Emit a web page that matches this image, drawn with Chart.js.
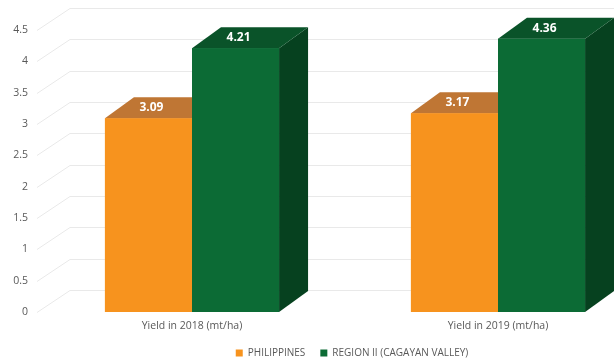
<!DOCTYPE html>
<html>
<head>
<meta charset="utf-8">
<script src="https://cdn.jsdelivr.net/npm/chart.js@4/dist/chart.umd.min.js"></script>
<style>
  html, body { margin: 0; padding: 0; background: #ffffff; overflow: hidden; }
  #wrap { position: relative; width: 700px; height: 368px; }
</style>
</head>
<body>
<div id="wrap"><canvas id="chart"></canvas></div>
<script>
// Rice yield, metric tons per hectare
const categories = ['Yield in 2018 (mt/ha)', 'Yield in 2019 (mt/ha)'];
const seriesNames = ['PHILIPPINES', 'REGION II (CAGAYAN VALLEY)'];
const philippines = [3.09, 3.17];
const cagayanValley = [4.21, 4.36];
const yMax = 4.5;
const yStep = 0.5;

// face colours: front, top, side
const palette = [
  { front: '#F7931E', top: '#BF7634', side: '#A85F1E' },
  { front: '#0C6B35', top: '#0A5329', side: '#06411F' }
];

// oblique depth of the walls and of the columns
const WALL = { dx: 31, dy: -22 };
const BAR = { dx: 29, dy: -21 };

const threeD = {
  id: 'threeD',
  beforeDatasetsDraw(chart) {
    const { ctx, chartArea } = chart;
    const y = chart.scales.y;
    ctx.save();
    ctx.strokeStyle = '#e9e9e9';
    ctx.lineWidth = 1;
    for (let v = 0; v <= yMax + 1e-9; v += yStep) {
      const py = Math.round(y.getPixelForValue(v)) + 0.5;
      ctx.beginPath();
      ctx.moveTo(chartArea.left - 2, py);
      ctx.lineTo(chartArea.left + WALL.dx, py + WALL.dy);
      ctx.lineTo(chart.width, py + WALL.dy);
      ctx.stroke();
    }
    ctx.restore();
  },
  afterDatasetsDraw(chart) {
    const { ctx } = chart;
    const metas = chart.data.datasets.map((d, i) => chart.getDatasetMeta(i));
    ctx.save();
    for (let i = 0; i < categories.length; i++) {
      metas.forEach((meta, di) => {
        const el = meta.data[i];
        const c = palette[di];
        const l = el.x - el.width / 2, r = el.x + el.width / 2;
        const t = el.y, b = el.base;
        // side face
        ctx.fillStyle = c.side;
        ctx.beginPath();
        ctx.moveTo(r, t); ctx.lineTo(r + BAR.dx, t + BAR.dy);
        ctx.lineTo(r + BAR.dx, b + BAR.dy); ctx.lineTo(r, b);
        ctx.closePath(); ctx.fill();
        // top face
        ctx.fillStyle = c.top;
        ctx.beginPath();
        ctx.moveTo(l, t); ctx.lineTo(r, t);
        ctx.lineTo(r + BAR.dx, t + BAR.dy); ctx.lineTo(l + BAR.dx, t + BAR.dy);
        ctx.closePath(); ctx.fill();
        // front face
        ctx.fillStyle = c.front;
        ctx.fillRect(l, t, r - l, b - t);
      });
    }
    // value labels on the top faces
    ctx.fillStyle = '#ffffff';
    ctx.font = 'bold 12px "Open Sans"';
    ctx.textAlign = 'center';
    ctx.textBaseline = 'middle';
    metas.forEach((meta, di) => {
      meta.data.forEach((el, i) => {
        const v = chart.data.datasets[di].data[i];
        ctx.fillText(v.toFixed(2), el.x + 3, el.y + BAR.dy / 2);
      });
    });
    ctx.restore();
  }
};

new Chart(document.getElementById('chart'), {
  type: 'bar',
  data: {
    labels: categories,
    datasets: [
      { label: seriesNames[0], data: philippines, backgroundColor: palette[0].front,
        categoryPercentage: 0.569, barPercentage: 1 },
      { label: seriesNames[1], data: cagayanValley, backgroundColor: palette[1].front,
        categoryPercentage: 0.569, barPercentage: 1 }
    ]
  },
  options: {
    responsive: true,
    maintainAspectRatio: false,
    animation: false,
    layout: { padding: { top: 30, left: 4, right: 0, bottom: 0 } },
    scales: {
      x: {
        grid: { display: false, drawTicks: false },
        border: { display: false },
        ticks: { color: '#595959', font: { family: 'Open Sans', size: 10.5 }, padding: 8 },
        afterFit(s) { s.height = 21; }
      },
      y: {
        min: 0, max: yMax,
        grid: { display: false, drawTicks: false },
        border: { display: false },
        ticks: {
          stepSize: yStep, color: '#595959', font: { family: 'Open Sans', size: 10.5 }, padding: 11,
          callback: (v) => String(Math.round(v * 10) / 10)
        },
        afterFit(s) { s.width = 35; }
      },
      yRight: {
        position: 'right',
        grid: { display: false, drawTicks: false },
        border: { display: false },
        ticks: { display: false },
        afterFit(s) { s.width = 49; }
      }
    },
    plugins: {
      legend: {
        position: 'bottom',
        labels: {
          boxWidth: 7, boxHeight: 7, padding: 15,
          color: '#595959', font: { family: 'Open Sans', size: 10 }
        }
      },
      tooltip: { enabled: false }
    }
  },
  plugins: [threeD]
});
</script>
</body>
</html>
